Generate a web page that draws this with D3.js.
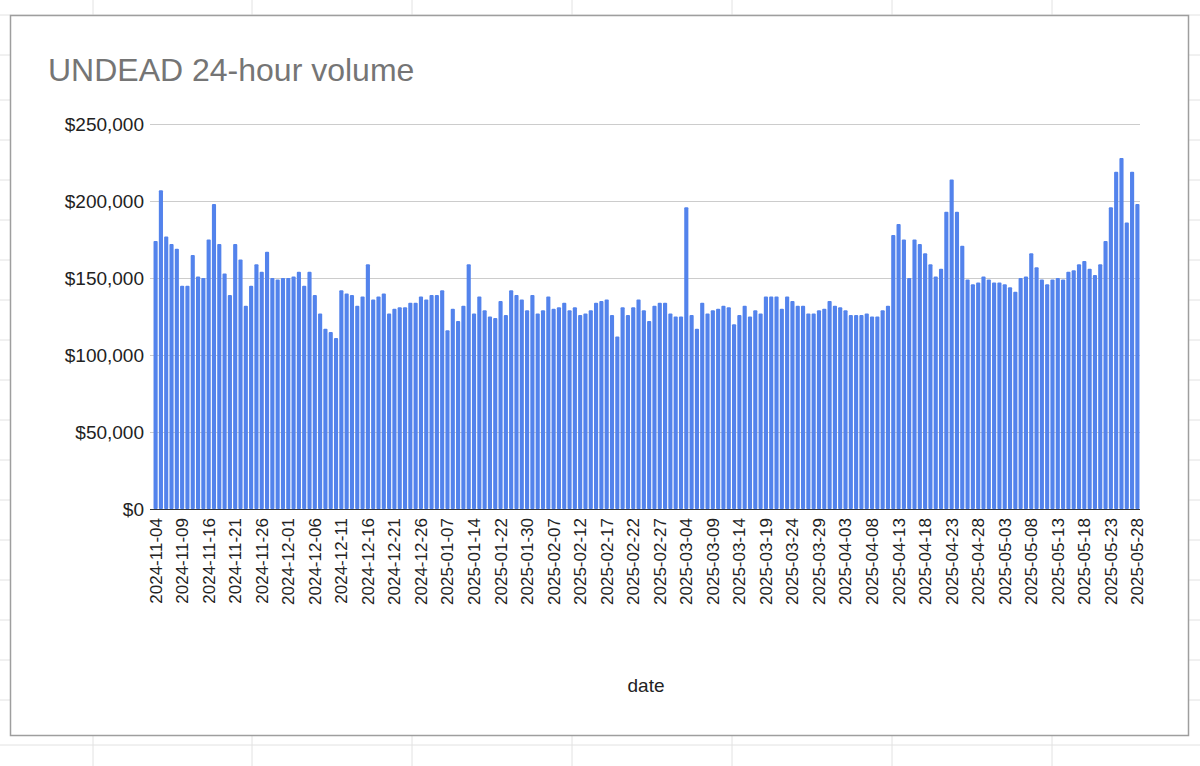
<!DOCTYPE html>
<html>
<head>
<meta charset="utf-8">
<script src="https://cdn.jsdelivr.net/npm/d3@7"></script>
<style>
  body { margin: 0; background: #fff; }
  svg { font-family: Arial, "Liberation Sans", sans-serif; }
</style>
</head>
<body>
<svg width="1200" height="766"></svg>
<script>
// volumes in thousands of USD, one per trading day shown
const volumes = [
  174, 207, 177, 172, 169, 145, 145, 165, 151, 150,
  175, 198, 172, 153, 139, 172, 162, 132, 145, 159,
  154, 167, 150, 149, 150, 150, 151, 154, 145, 154,
  139, 127, 117, 115, 111, 142, 140, 139, 132, 138,
  159, 136, 138, 140, 127, 130, 131, 131, 134, 134,
  138, 136, 139, 139, 142, 116, 130, 122, 132, 159,
  127, 138, 129, 125, 124, 135, 126, 142, 139, 136,
  129, 139, 127, 129, 138, 130, 131, 134, 129, 131,
  126, 127, 129, 134, 135, 136, 126, 112, 131, 126,
  131, 136, 129, 122, 132, 134, 134, 127, 125, 125,
  196, 126, 117, 134, 127, 129, 130, 132, 131, 120,
  126, 132, 125, 129, 127, 138, 138, 138, 130, 138,
  135, 132, 132, 127, 127, 129, 130, 135, 132, 131,
  129, 126, 126, 126, 127, 125, 125, 129, 132, 178,
  185, 175, 150, 175, 172, 166, 159, 151, 156, 193,
  214, 193, 171, 149, 146, 147, 151, 149, 147, 147,
  146, 144, 141, 150, 151, 166, 157, 149, 146, 149,
  150, 149, 154, 155, 159, 161, 156, 152, 159, 174,
  196, 219, 228, 186, 219, 198
];

// every fifth day carries a label
const tickLabels = [
  "2024-11-04", "2024-11-09", "2024-11-16", "2024-11-21", "2024-11-26",
  "2024-12-01", "2024-12-06", "2024-12-11", "2024-12-16", "2024-12-21",
  "2024-12-26", "2025-01-07", "2025-01-14", "2025-01-22", "2025-01-30",
  "2025-02-07", "2025-02-12", "2025-02-17", "2025-02-22", "2025-02-27",
  "2025-03-04", "2025-03-09", "2025-03-14", "2025-03-19", "2025-03-24",
  "2025-03-29", "2025-04-03", "2025-04-08", "2025-04-13", "2025-04-18",
  "2025-04-23", "2025-04-28", "2025-05-03", "2025-05-08", "2025-05-13",
  "2025-05-18", "2025-05-23", "2025-05-28"
];
const yTicks = [0, 50000, 100000, 150000, 200000, 250000];

const svg = d3.select('svg');

// faint spreadsheet grid behind the chart card
const sheet = svg.append('g').attr('stroke', '#e2e2e2');
[93, 252, 412, 572, 732, 892, 1052].forEach(x =>
  sheet.append('line').attr('x1', x).attr('x2', x).attr('y1', 0).attr('y2', 766));
[15, 55, 100, 140, 180, 220, 260, 300, 340, 380, 420, 460, 500, 540, 580, 620, 660, 700, 745].forEach(y =>
  sheet.append('line').attr('x1', 0).attr('x2', 1200).attr('y1', y).attr('y2', y));

svg.append('rect')
  .attr('x', 10.5).attr('y', 15.5).attr('width', 1178).attr('height', 720)
  .attr('fill', '#fff').attr('stroke', '#9e9e9e').attr('stroke-width', 1.5);

svg.append('text')
  .attr('x', 48).attr('y', 81)
  .attr('font-size', 32).attr('fill', '#757575')
  .text('UNDEAD 24-hour volume');

const plotLeft = 153, plotRight = 1140, plotTop = 124, plotBottom = 509;

const xScale = d3.scaleBand()
  .domain(d3.range(volumes.length))
  .range([plotLeft, plotRight])
  .paddingInner(0.22)
  .paddingOuter(0.1);

const yScale = d3.scaleLinear()
  .domain([0, 250000])
  .range([plotBottom, plotTop]);

// gridlines + y labels
const yAxis = svg.append('g')
  .attr('transform', `translate(${plotLeft - 3},0)`)
  .call(d3.axisLeft(yScale).tickValues(yTicks)
    .tickSize(-(plotRight - plotLeft + 3))
    .tickFormat(d => '$' + d3.format(',')(d)));
yAxis.select('.domain').remove();
yAxis.selectAll('line').attr('stroke', d => d === 0 ? '#333' : '#cccccc').attr('stroke-width', d => d === 0 ? 1.2 : 1);
yAxis.selectAll('text')
  .attr('font-size', 19).attr('fill', '#222')
  .attr('x', -6).attr('font-family', 'Arial, "Liberation Sans", sans-serif');

svg.append('g').selectAll('rect').data(volumes)
  .enter().append('rect')
    .attr('x', (d, i) => xScale(i))
    .attr('y', d => yScale(d * 1000))
    .attr('width', xScale.bandwidth())
    .attr('height', d => plotBottom - yScale(d * 1000))
    .attr('rx', 1)
    .attr('fill', '#5383ec');

// x labels, rotated
const xAxis = svg.append('g')
  .attr('transform', `translate(0,${plotBottom})`)
  .call(d3.axisBottom(xScale)
    .tickValues(tickLabels.map((t, k) => k * 5))
    .tickSize(0)
    .tickFormat(i => tickLabels[i / 5]));
xAxis.select('.domain').remove();
xAxis.selectAll('text')
  .attr('font-size', 17).attr('fill', '#222')
  .attr('font-family', 'Arial, "Liberation Sans", sans-serif')
  .attr('transform', 'rotate(-90)')
  .attr('text-anchor', 'end')
  .attr('x', -9).attr('y', 0).attr('dy', '0.35em');

svg.append('text')
  .attr('x', 646).attr('y', 692)
  .attr('text-anchor', 'middle')
  .attr('font-size', 19).attr('fill', '#222')
  .text('date');
</script>
</body>
</html>
